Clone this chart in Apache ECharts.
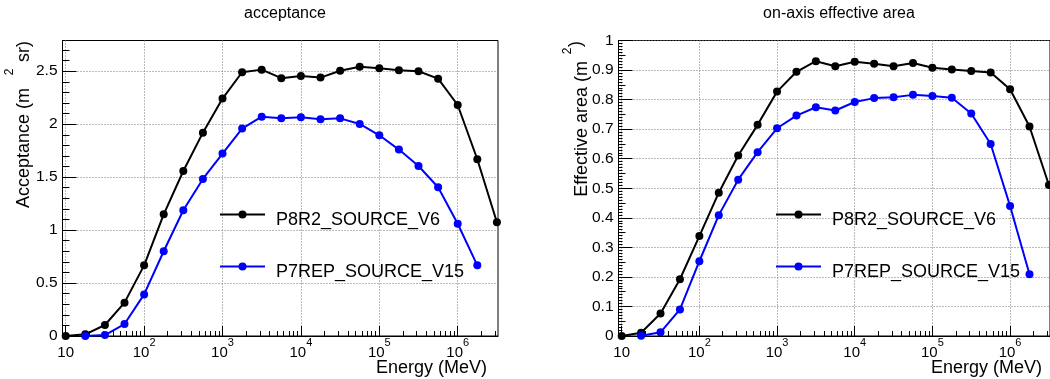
<!DOCTYPE html>
<html>
<head>
<meta charset="utf-8">
<script src="https://cdn.jsdelivr.net/npm/echarts@6/dist/echarts.min.js"></script>
<style>
  html, body { margin: 0; padding: 0; background: #fff; }
  #chart { width: 1050px; height: 379px; }
</style>
</head>
<body>
<div id="chart"></div>
<script>
// ---- data ----
const energyMeV = [10, 17.78, 31.62, 56.23, 100, 177.8, 316.2, 562.3, 1000, 1778, 3162, 5623,
  10000, 17783, 31623, 56234, 100000, 177828, 316228, 562341, 1000000, 1778279, 3162278];

const acceptanceP8R2 = [0, 0.016, 0.104, 0.315, 0.667, 1.149, 1.558, 1.92, 2.242, 2.49, 2.515, 2.434,
  2.455, 2.44, 2.505, 2.543, 2.528, 2.509, 2.5, 2.43, 2.181, 1.669, 1.074];
const acceptanceP7REP = [null, 0.0, 0.009, 0.113, 0.393, 0.80, 1.187, 1.483, 1.722, 1.958, 2.071, 2.055,
  2.065, 2.046, 2.055, 2.002, 1.895, 1.76, 1.605, 1.404, 1.06, 0.667, null];

const effAreaP8R2 = [0, 0.011, 0.076, 0.192, 0.338, 0.485, 0.611, 0.7145, 0.827, 0.894, 0.930, 0.913,
  0.928, 0.921, 0.913, 0.924, 0.908, 0.902, 0.897, 0.892, 0.835, 0.709, 0.511];
const effAreaP7REP = [null, 0.001, 0.0125, 0.090, 0.253, 0.409, 0.529, 0.622, 0.703, 0.746, 0.774, 0.763,
  0.792, 0.805, 0.808, 0.816, 0.812, 0.806, 0.753, 0.650, 0.440, 0.209, null];

const seriesNames = ['P8R2_SOURCE_V6', 'P7REP_SOURCE_V15'];
const panelTitles = ['acceptance', 'on-axis effective area'];

// tick labels
const xMajorExponents = [1, 2, 3, 4, 5, 6];           // 10, 10^2 ... 10^6
const yTicksAcceptance = [0, 0.5, 1, 1.5, 2, 2.5];
const yTicksEffArea = [0, 0.1, 0.2, 0.3, 0.4, 0.5, 0.6, 0.7, 0.8, 0.9, 1];

// ---- derived helpers ----
const FONT = 'Liberation Sans';
const X_MIN = 0.959, X_MAX = 6.514;   // log10(E) range of the frames
const xMinorExponents = [];
for (let n = 1; n <= 6; n++) {
  for (let k = 2; k <= 9; k++) {
    const e = Math.log10(k * Math.pow(10, n));
    if (e > X_MIN && e < X_MAX) xMinorExponents.push(e);
  }
}
const accMinor = [];
for (let i = 1; i <= 27; i++) { if (i % 5 !== 0) accMinor.push(i / 10); }
const effMedium = [];
const effMinor = [];
for (let i = 1; i < 100; i++) {
  if (i % 10 === 0) continue;
  if (i % 5 === 0) effMedium.push(i / 100); else effMinor.push(i / 100);
}

function pairs(values) {
  const out = [];
  values.forEach((v, i) => { if (v !== null) out.push([Math.log10(energyMeV[i]), v]); });
  return out;
}

const gridLine = { show: true, lineStyle: { color: '#777', width: 1, type: [1, 2] } };
const blackLine = { show: true, lineStyle: { color: '#000', width: 1 } };

function xAxes(gridIndex) {
  return [{
    gridIndex, type: 'value', min: X_MIN, max: X_MAX, position: 'bottom',
    axisLine: blackLine,
    axisTick: { show: true, inside: true, length: 10, customValues: xMajorExponents, lineStyle: { color: '#000' } },
    axisLabel: {
      customValues: xMajorExponents, margin: 1, color: '#000',
      formatter: v => { const n = Math.round(v); return n === 1 ? '{b|10}' : '{b|10}{s|' + n + '}'; },
      rich: {
        b: { fontSize: 15, fontFamily: FONT, color: '#000', padding: [8, 0, 0, 0] },
        s: { fontSize: 11, fontFamily: FONT, color: '#000', verticalAlign: 'top' }
      }
    },
    splitLine: gridLine
  }, {
    gridIndex, type: 'value', min: X_MIN, max: X_MAX, position: 'bottom',
    axisLine: { show: false },
    axisTick: { show: true, inside: true, length: 5, customValues: xMinorExponents, lineStyle: { color: '#000' } },
    axisLabel: { show: false },
    splitLine: { show: false }
  }];
}

function yAxis(gridIndex, max, ticks, len, withLabels) {
  return {
    gridIndex, type: 'value', min: 0, max, position: 'left',
    axisLine: withLabels ? blackLine : { show: false },
    axisTick: { show: true, inside: true, length: len, customValues: ticks, lineStyle: { color: '#000' } },
    axisLabel: withLabels ? {
      customValues: ticks, margin: 5, color: '#000', fontSize: 15.5, fontFamily: FONT,
      formatter: v => String(Math.round(v * 100) / 100)
    } : { show: false },
    splitLine: withLabels ? gridLine : { show: false }
  };
}

function lineSeries(name, color, values, xi, yi) {
  return {
    type: 'line', name, xAxisIndex: xi, yAxisIndex: yi,
    data: pairs(values),
    symbol: 'circle', symbolSize: 8, showSymbol: true,
    itemStyle: { color },
    lineStyle: { color, width: 2 },
    emphasis: { disabled: true },
    animation: false
  };
}

function legend(name, left, top) {
  return {
    data: [name], left, top, orient: 'vertical', padding: 0,
    itemWidth: 45, itemHeight: 10, selectedMode: false,
    formatter: '{a|{name}}',
    textStyle: {
      fontSize: 18, fontFamily: FONT, color: '#000',
      rich: { a: { fontSize: 18, fontFamily: FONT, color: '#000', padding: [11, 0, 0, 6] } }
    }
  };
}

const textEl = (text, x, y, align, vAlign, size, rot) => ({
  type: 'text', x, y, rotation: rot || 0, silent: true,
  style: { text, font: size + 'px "' + FONT + '"', fill: '#000', align, verticalAlign: vAlign }
});

const option = {
  animation: false,
  backgroundColor: '#fff',
  title: [
    { text: panelTitles[0], left: 280, top: 1, textAlign: 'center',
      textStyle: { fontSize: 16, fontWeight: 'normal', fontFamily: FONT, color: '#000' } },
    { text: panelTitles[1], left: 834, top: 1, textAlign: 'center',
      textStyle: { fontSize: 16, fontWeight: 'normal', fontFamily: FONT, color: '#000' } }
  ],
  grid: [
    { left: 62.5, top: 40.5, width: 435.5, height: 295.5, show: true, borderColor: '#000', borderWidth: 1, containLabel: false },
    { left: 618.5, top: 40.5, width: 434, height: 295.5, show: true, borderColor: '#000', borderWidth: 1, containLabel: false }
  ],
  xAxis: [...xAxes(0), ...xAxes(1)],
  yAxis: [
    yAxis(0, 2.79, yTicksAcceptance, 14, true),
    yAxis(0, 2.79, accMinor, 7, false),
    yAxis(1, 1, yTicksEffArea, 14, true),
    yAxis(1, 1, effMedium, 7, false),
    yAxis(1, 1, effMinor, 4, false)
  ],
  legend: [
    legend(seriesNames[0], 219, 210.5),
    legend(seriesNames[1], 219, 262.5),
    legend(seriesNames[0], 775, 210.5),
    legend(seriesNames[1], 775, 262.5)
  ],
  series: [
    lineSeries(seriesNames[0], '#000000', acceptanceP8R2, 0, 0),
    lineSeries(seriesNames[1], '#0000ff', acceptanceP7REP, 0, 0),
    lineSeries(seriesNames[0], '#000000', effAreaP8R2, 2, 2),
    lineSeries(seriesNames[1], '#0000ff', effAreaP7REP, 2, 2)
  ],
  graphic: [
    textEl('Acceptance (m', 23.7, 88, 'right', 'middle', 18, Math.PI / 2),
    textEl('2', 9.5, 72, 'center', 'middle', 12, Math.PI / 2),
    textEl('sr)', 23.7, 41, 'right', 'middle', 18, Math.PI / 2),
    textEl('Effective area (m', 581.7, 61, 'right', 'middle', 18, Math.PI / 2),
    textEl('2', 567.5, 51, 'center', 'middle', 12, Math.PI / 2),
    textEl(')', 576, 41, 'right', 'middle', 18, Math.PI / 2),
    textEl('Energy (MeV)', 487, 359, 'right', 'top', 18),
    textEl('Energy (MeV)', 1042, 359, 'right', 'top', 18)
  ]
};

const chart = echarts.init(document.getElementById('chart'), null, { renderer: 'canvas' });
chart.setOption(option);
</script>
</body>
</html>
